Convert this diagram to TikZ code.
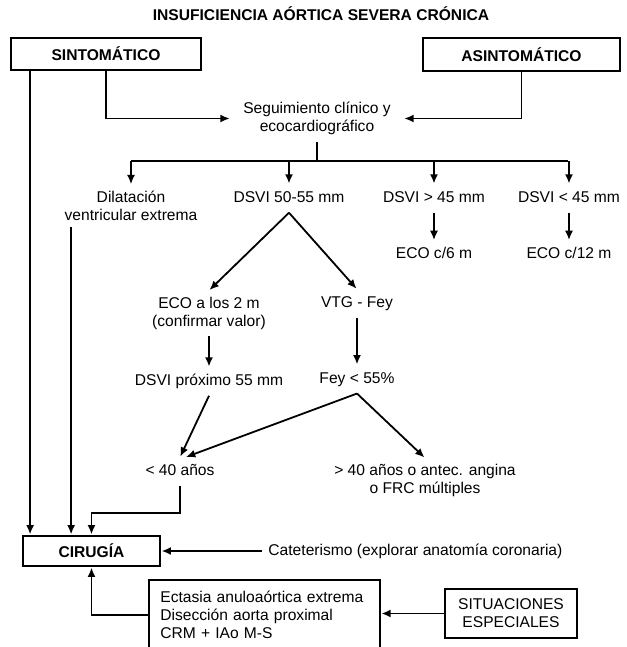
\documentclass[tikz,border=0pt]{standalone}
\usepackage{fontspec}
\setmainfont{Liberation Sans}
\usetikzlibrary{arrows,arrows.meta,shapes,positioning}

\newcommand{\fuente}{\fontsize{11.7}{13.5}\selectfont}

\begin{document}
\begin{tikzpicture}[->,>={Latex[length=7pt,width=6pt]},shorten >=0.5pt,auto,node distance=0.3cm,
                    line width=1.35pt,x=0.75pt,y=-0.75pt,font=\fuente]
\tikzstyle{caja}=[rectangle,draw=black,line width=1.35pt,inner sep=0pt]
\tikzstyle{texto}=[align=center,inner sep=4pt,text height=9pt,text depth=3pt]
\tikzstyle{texto2}=[align=center,inner sep=4pt]
\tikzstyle{negrita}=[font=\fuente\bfseries]
\useasboundingbox (0,0) rectangle (627,647);

\node[texto,negrita] (titulo) at (321,16) {INSUFICIENCIA AÓRTICA SEVERA CRÓNICA};
\node[caja,negrita,minimum width=142.5pt,minimum height=24pt] (sinto) at (106,54) {SINTOMÁTICO};
\node[caja,negrita,minimum width=147.75pt,minimum height=24.75pt] (asinto) at (521.5,54.5) {ASINTOMÁTICO};
\node[texto2,inner xsep=9pt,inner ysep=5pt] (seg) at (317,118.5) {Seguimiento clínico y\\ecocardiográfico};
\coordinate (rama) at (317,161);

\node[texto2] (dil) at (131,206) {Dilatación\\ventricular extrema};
\node[texto] (d5055) at (289,198.5) {DSVI 50-55 mm};
\node[texto] (dmay) at (434,198.5) {DSVI > 45 mm};
\node[texto] (dmen) at (569,198.5) {DSVI < 45 mm};
\node[texto] (eco6)[below=21pt of dmay] {ECO c/6 m};
\node[texto] (eco12)[below=21pt of dmen] {ECO c/12 m};

\node[texto2] (eco2) at (209,313) {ECO a los 2 m\\(confirmar valor)};
\node[texto] (vtg) at (357,303.5) {VTG - Fey};
\node[texto] (dprox) at (209,381.5) {DSVI próximo 55 mm};
\node[texto] (fey)[below=35.5pt of vtg] {Fey < 55\%};
\node[texto] (men40) at (180,471.5) {< 40 años};
\node[texto2] (may40) at (425,480.5) {> 40 años o antec. angina\\o FRC múltiples};

\node[caja,negrita,minimum width=102.75pt,minimum height=22.5pt] (cir) at (91.5,551) {CIRUGÍA};
\node[texto,right=76pt of cir] (cat) {Cateterismo (explorar anatomía coronaria)};
\node[caja,anchor=north west,align=left,text width=156pt,inner xsep=8.6pt,inner ysep=8.4pt] (ect) at (148,579)
  {Ectasia anuloaórtica extrema\\Disección aorta proximal\\CRM + IAo M-S};
\node[caja,align=center,minimum width=99pt,minimum height=36.75pt] (sit) at (511,613.5) {SITUACIONES\\ESPECIALES};

% ramas de arriba
\draw ([xshift=15pt]sinto.south west) -- ([xshift=15pt]sinto.south west |- cir.north);
\draw (sinto.south) |- (seg.west);
\draw (asinto.south) |- (seg.east);
\draw[-] (seg.south) -- (rama);
\draw[-] (dil.north |- rama) -- (dmen.north |- rama);
\draw (dil.north |- rama) -- (dil.north);
\draw (d5055.north |- rama) -- (d5055.north);
\draw (dmay.north |- rama) -- (dmay.north);
\draw (dmen.north |- rama) -- (dmen.north);
\draw (dmay) -- (eco6);
\draw (dmen) -- (eco12);

% DSVI 50-55
\draw (d5055.south) -- (eco2.north);
\draw (d5055.south) -- (vtg.north);
\draw (eco2) -- (dprox);
\draw (vtg) -- (fey);
\draw (dprox.south) -- (men40.north);
\draw (fey.south) -- ([xshift=4pt]men40.north);
\draw (fey.south) -- (may40.north);

% hacia cirugia
\draw (men40.south) -- ++(0,27) -| (cir.north);
\draw ([xshift=9.5pt]dil.south west) -- ([xshift=9.5pt]dil.south west |- cir.north);
\draw (cat.west) -- (cir.east);
\draw (ect.west) -| (cir.south);
\draw (sit.west) -- (sit.west -| ect.east);
\end{tikzpicture}
\end{document}
